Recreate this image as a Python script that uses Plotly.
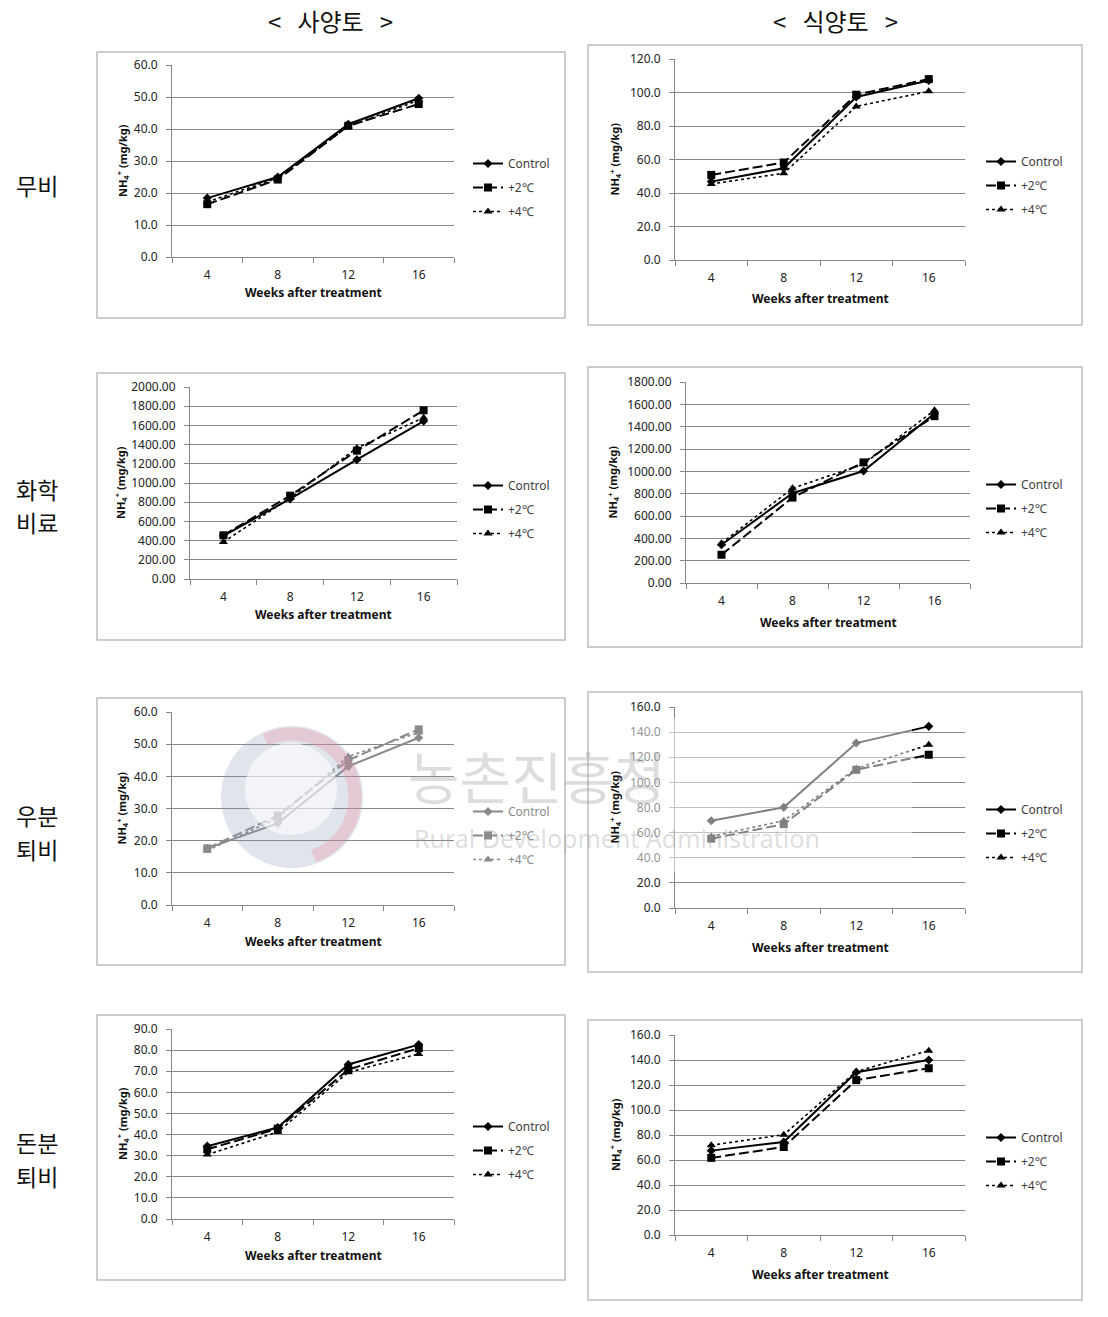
import math
import plotly.graph_objects as go

# page body has an 8px margin: figure is sized so the page fits the 1108x1317 window
REF_W, REF_H = 1108, 1317
OFF = 8
W, H = REF_W - 2 * OFF, REF_H - 2 * OFF

# ---------------- data ----------------
weeks = [4, 8, 12, 16]
series_names = ["Control", "+2℃", "+4℃"]
SP = "\u00a0" * 3
col_titles = [f"<{SP}사양토{SP}>", f"<{SP}식양토{SP}>"]
row_titles = [["무비"], ["화학", "비료"], ["우분", "퇴비"], ["돈분", "퇴비"]]
x_title_text = "Weeks after treatment"
y_title_text = "NH<sub>4</sub><sup>+</sup> (mg/kg)"

# 무비 (no fertilizer)
nofert_sandy_control = [18.4, 25.0, 41.5, 49.6]
nofert_sandy_plus2 = [16.5, 24.2, 41.0, 47.8]
nofert_sandy_plus4 = [17.2, 24.7, 40.8, 49.0]
nofert_clay_control = [46.8, 54.8, 97.3, 107.2]
nofert_clay_plus2 = [50.8, 58.2, 98.7, 108.0]
nofert_clay_plus4 = [45.4, 51.8, 91.7, 100.7]
# 화학비료 (chemical fertilizer)
chem_sandy_control = [450, 835, 1243, 1645]
chem_sandy_plus2 = [455, 868, 1337, 1757]
chem_sandy_plus4 = [385, 845, 1365, 1680]
chem_clay_control = [342, 804, 1003, 1518]
chem_clay_plus2 = [253, 765, 1080, 1494]
chem_clay_plus4 = [357, 848, 1065, 1547]
# 우분퇴비 (cattle manure compost)
cattle_sandy_control = [17.6, 25.4, 43.1, 52.0]
cattle_sandy_plus2 = [17.6, 27.8, 45.0, 54.6]
cattle_sandy_plus4 = [16.9, 27.0, 46.2, 53.6]
cattle_clay_control = [69.5, 80.1, 131.3, 144.6]
cattle_clay_plus2 = [55.2, 66.8, 110.0, 122.0]
cattle_clay_plus4 = [57.0, 69.5, 111.0, 130.0]
# 돈분퇴비 (pig manure compost)
pig_sandy_control = [34.5, 43.3, 73.2, 82.6]
pig_sandy_plus2 = [33.0, 42.8, 70.8, 80.9]
pig_sandy_plus4 = [30.5, 41.2, 69.5, 78.2]
pig_clay_control = [67.5, 74.4, 130.2, 140.0]
pig_clay_plus2 = [61.7, 70.4, 123.9, 133.4]
pig_clay_plus4 = [71.8, 80.3, 130.8, 147.5]

y_max = [60, 120, 2000, 1800, 60, 160, 90, 160]
y_step = [10, 20, 200, 200, 10, 20, 10, 20]
y_fmt = [".1f", ".1f", ".2f", ".2f", ".1f", ".1f", ".1f", ".1f"]

panel_series = [
    [nofert_sandy_control, nofert_sandy_plus2, nofert_sandy_plus4],
    [nofert_clay_control, nofert_clay_plus2, nofert_clay_plus4],
    [chem_sandy_control, chem_sandy_plus2, chem_sandy_plus4],
    [chem_clay_control, chem_clay_plus2, chem_clay_plus4],
    [cattle_sandy_control, cattle_sandy_plus2, cattle_sandy_plus4],
    [cattle_clay_control, cattle_clay_plus2, cattle_clay_plus4],
    [pig_sandy_control, pig_sandy_plus2, pig_sandy_plus4],
    [pig_clay_control, pig_clay_plus2, pig_clay_plus4],
]

# ---------------- layout geometry (reference pixels) ----------------
plot_boxes = [  # x0, x1, y0(top), y1(bottom)
    (172, 454, 65, 257), (675, 965, 59, 260),
    (190, 457, 387, 579), (686, 970, 382, 583),
    (172, 454, 712, 905), (675, 965, 707, 908),
    (172, 454, 1029, 1219), (675, 965, 1035, 1235),
]
frame_boxes = [
    (97, 565, 52, 318), (588, 1082, 45, 325),
    (97, 565, 373, 640), (588, 1082, 367, 647),
    (97, 565, 698, 965), (588, 1082, 692, 972),
    (97, 565, 1015, 1280), (588, 1082, 1020, 1300),
]
ytitle_x = [122, 615, 120, 613, 122, 615, 122, 615]
legend_first_y = [160, 158, 482, 481, 808, 806, 1123, 1134]
legend_x = [468, 981, 468, 981, 468, 981, 468, 981]

FONT = "Noto Sans"
KFONT = "Noto Sans CJK KR"
GRID = "#878787"


def px(x):
    return (x - OFF) / W


def py(y):
    return 1 - (y - OFF) / H


styles = [
    dict(line=dict(width=2, dash="solid"), marker=dict(symbol="diamond", size=7)),
    dict(line=dict(width=2, dash="10px,4px"), marker=dict(symbol="square", size=8)),
    dict(line=dict(width=1.6, dash="dot"), marker=dict(symbol="triangle-up", size=8)),
]

fig = go.Figure()
layout = dict(
    width=W, height=H, margin=dict(l=0, r=0, t=0, b=0, autoexpand=False),
    paper_bgcolor="white", plot_bgcolor="rgba(0,0,0,0)",
    font=dict(family=FONT, size=11, color="#222"),
    showlegend=True,
)
annotations = []
shapes = []

for i in range(8):
    n = i + 1
    ax_sfx = "" if n == 1 else str(n)
    leg = "legend" if n == 1 else f"legend{n}"
    color = "#8a8a8a" if i == 4 else "black"
    for k in range(3):
        st = styles[k]
        fig.add_trace(go.Scatter(
            x=weeks, y=panel_series[i][k], name=series_names[k],
            mode="lines+markers", xaxis=f"x{ax_sfx}", yaxis=f"y{ax_sfx}",
            legend=leg, legendgroup=f"p{n}s{k}",
            line=dict(color=color, **st["line"]),
            marker=dict(color=color, **st["marker"]),
            hoverinfo="x+y+name",
        ))
    x0, x1, y0, y1 = plot_boxes[i]
    layout[f"xaxis{ax_sfx}"] = dict(
        domain=[px(x0), px(x1)], anchor=f"y{ax_sfx}", automargin=False,
        range=[2, 18], tickmode="array", tickvals=weeks,
        ticktext=[str(w) for w in weeks], ticks="", showgrid=False,
        zeroline=False, showline=True, linecolor=GRID, linewidth=1,
        ticklabelstandoff=7, tickfont=dict(size=12, color="#222"),
        minor=dict(tickmode="array", tickvals=[2, 6, 10, 14, 18],
                   ticks="outside", ticklen=5, tickcolor=GRID, showgrid=False),
        fixedrange=True,
    )
    layout[f"yaxis{ax_sfx}"] = dict(
        domain=[py(y1), py(y0)], anchor=f"x{ax_sfx}", automargin=False,
        range=[0, y_max[i]], dtick=y_step[i], tick0=0, tickformat=y_fmt[i],
        ticks="outside", ticklen=5, tickcolor=GRID,
        showgrid=True, gridcolor=GRID, gridwidth=1, zeroline=False,
        showline=True, linecolor=GRID, linewidth=1,
        ticklabelstandoff=6, tickfont=dict(size=12, color="#222"),
        fixedrange=True,
    )
    layout[leg] = dict(
        x=px(legend_x[i]), y=py(legend_first_y[i] - 11), xanchor="left", yanchor="top",
        bgcolor="rgba(0,0,0,0)", borderwidth=0, traceorder="grouped",
        tracegroupgap=5, itemwidth=30,
        font=dict(family=FONT, size=12, color="#8a8a8a" if i == 4 else "#404040"),
    )
    # axis titles
    xc = (x0 + x1) / 2
    annotations.append(dict(
        text=f"<b>{x_title_text}</b>", x=px(xc), y=py(y1 + (36 if i % 2 == 0 else 39)),
        xref="paper", yref="paper", showarrow=False, xanchor="center", yanchor="middle",
        font=dict(family=FONT, size=12, color="#111"),
    ))
    annotations.append(dict(
        text=f"<b>{y_title_text}</b>", x=px(ytitle_x[i]), y=py((y0 + y1) / 2),
        xref="paper", yref="paper", showarrow=False, textangle=-90,
        xanchor="center", yanchor="middle",
        font=dict(family=FONT, size=11, color="#111"),
    ))
    # panel frame
    fx0, fx1, fy0, fy1 = frame_boxes[i]
    shapes.append(dict(type="rect", xref="paper", yref="paper",
                       x0=px(fx0), x1=px(fx1), y0=py(fy1), y1=py(fy0),
                       line=dict(color="#bdbdbd", width=1.5), layer="below"))

# column titles
for txt, xc in zip(col_titles, [330, 835]):
    annotations.append(dict(text=txt, x=px(xc), y=py(21), xref="paper", yref="paper",
                            showarrow=False, xanchor="center", yanchor="middle",
                            font=dict(family=KFONT, size=24, color="#111")))
# row titles
row_y = [[185], [489, 522], [815, 849], [1142, 1176]]
for lines, ys in zip(row_titles, row_y):
    for t, yy in zip(lines, ys):
        annotations.append(dict(text=t, x=px(37), y=py(yy), xref="paper", yref="paper",
                                showarrow=False, xanchor="center", yanchor="middle",
                                font=dict(family=KFONT, size=23, color="#111")))

# ---- watermark (semi-transparent overlay) ----
shapes.append(dict(type="rect", xref="paper", yref="paper",
                   x0=px(598), x1=px(912), y0=py(872), y1=py(718),
                   fillcolor="rgba(255,255,255,0.5)", line=dict(width=0), layer="above"))
cx, cy, r = 292, 797, 71
shapes.append(dict(type="circle", xref="paper", yref="paper",
                   x0=px(cx - r), x1=px(cx + r), y0=py(cy + r), y1=py(cy - r),
                   fillcolor="rgba(130,148,178,0.25)", line=dict(width=0), layer="above"))
ri = 46
shapes.append(dict(type="circle", xref="paper", yref="paper",
                   x0=px(291 - ri), x1=px(291 + ri), y0=py(789 + ri), y1=py(789 - ri),
                   fillcolor="rgba(255,255,255,0.6)", line=dict(width=0), layer="above"))
pts = []
for a in range(115, -75, -5):
    ar = math.radians(a)
    pts.append((px(cx + (r - 8) * math.cos(ar)), py(cy - (r - 8) * math.sin(ar))))
path = "M " + " L ".join(f"{x:.5f},{y:.5f}" for x, y in pts)
shapes.append(dict(type="path", xref="paper", yref="paper", path=path,
                   line=dict(color="rgba(240,140,155,0.30)", width=13), layer="above"))
annotations.append(dict(text="농촌진흥청", x=px(537), y=py(775), xref="paper", yref="paper",
                        showarrow=False, xanchor="center", yanchor="middle",
                        font=dict(family=KFONT, size=56, color="rgba(150,150,150,0.32)")))
annotations.append(dict(text="Rural Development Administration", x=px(617), y=py(838),
                        xref="paper", yref="paper", showarrow=False,
                        xanchor="center", yanchor="middle",
                        font=dict(family=FONT, size=25, color="rgba(150,150,150,0.32)")))

layout["annotations"] = annotations
layout["shapes"] = shapes
fig.update_layout(**layout)
fig.write_html("out.html")
